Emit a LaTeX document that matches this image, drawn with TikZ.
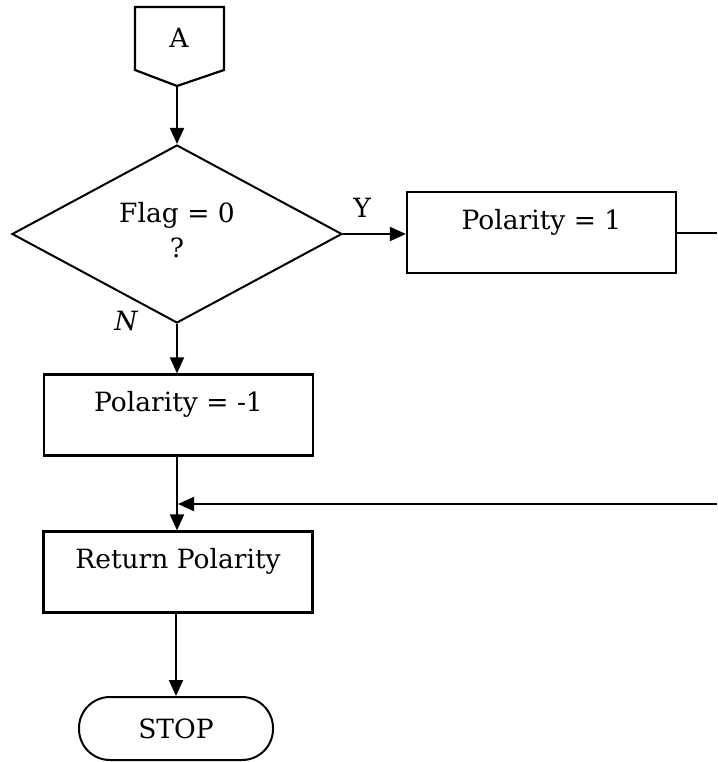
\documentclass[tikz,border=0pt]{standalone}
\usepackage{fontspec}
\setmainfont{DejaVu Serif}
\usetikzlibrary{arrows.meta,shapes.geometric}
\begin{document}
\begin{tikzpicture}[x=1pt,y=-1pt,
  every node/.style={font=\fontsize{26.5}{35}\selectfont},
  line/.style={line width=2pt},
  flow/.style={line, -{Triangle[length=16pt,width=14pt]}},
  procbox/.style={draw, line width=2.2pt, minimum width=269pt, minimum height=81pt, inner sep=0pt},
  label/.style={inner sep=0pt, align=center}]
\useasboundingbox (0,0) rectangle (717,762);

% off-page connector
\draw[line width=2.2pt, line join=miter] (135,7) -- (224,7) -- (224,70) -- (177,86) -- (135,70) -- cycle;
\node[label] (Atxt) at (179,38) {A};
\coordinate (Atip) at (177,86);

% decision
\node[diamond, draw, line width=2pt, minimum width=330pt, minimum height=178pt, inner sep=0pt] (dec) at (177,234) {};
\node[label] (dectxt) at (177,230) {Flag = 0\\?};
\node[label] (ylab) at (362,208) {Y};
\node[label] (nlab) at (126,321) {\itshape N};

% process boxes
\node[procbox] (p1) at (541.5,232.5) {};
\node[label] (p1txt) at (541.5,222) {Polarity = 1};
\node[procbox] (p2) at (178.5,415) {};
\node[label] (p2txt) at (178.5,404) {Polarity = -1};
\node[procbox] (ret) at (178,572) {};
\node[label] (rettxt) at (178,561) {Return Polarity};

% terminator
\node[draw, line width=2pt, rounded corners=31pt, minimum width=194pt, minimum height=63pt, inner sep=0pt] (stop) at (176,728.5) {};
\node[label] (stoptxt) at (176,729) {STOP};

% connectors
\coordinate (p1out) at (717,233);
\coordinate (retin) at (717,504);
\coordinate (join) at (178,504);
\draw[flow] (Atip) -- (dec.north);
\draw[flow] (dec.east) -- (dec.east -| p1.west);
\draw[line] (p1.east |- p1out) -- (p1out);
\draw[flow] (dec.south) -- (p2.north -| dec.south);
\draw[flow] (p2.south -| dec.south) -- (ret.north -| dec.south);
\draw[flow] (retin) -- (join);
\draw[flow] (ret.south -| stop.north) -- (stop.north);
\end{tikzpicture}
\end{document}
